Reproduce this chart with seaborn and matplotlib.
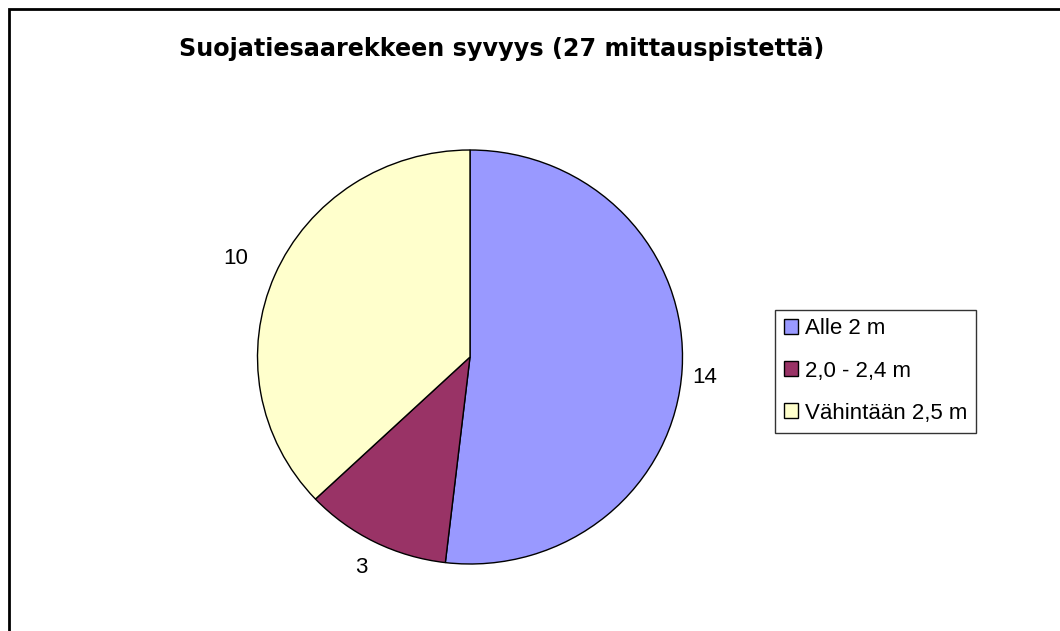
import matplotlib
matplotlib.use("Agg")
import numpy as np
import matplotlib.pyplot as plt
import seaborn as sns
from matplotlib.patches import Rectangle

# data
categories = ["Alle 2 m", "2,0 - 2,4 m", "Vähintään 2,5 m"]
counts = [14, 3, 10]
slice_colors = ["#9999FF", "#993366", "#FFFFCC"]
title = "Suojatiesaarekkeen syvyys (27 mittauspistettä)"

sns.set_theme(style="white")
plt.rcParams["font.family"] = ["Liberation Sans", "DejaVu Sans"]

W, H = 1060, 631
fig = plt.figure(figsize=(W / 100, H / 100), dpi=100)

# outer chart frame (cut off at right and bottom, as in the screenshot)
fig.patches.append(Rectangle((8.5 / W, -0.1), 1.2, (H - 8.5) / H + 0.1,
                             transform=fig.transFigure, fill=False,
                             edgecolor="black", linewidth=2.0))

# pie is a touch wider than tall in the original
cx, cy, rx, ry = 470, 357, 212.5, 207
ax = fig.add_axes([(cx - rx) / W, (H - cy - ry) / H, 2 * rx / W, 2 * ry / H])
wedges, texts = ax.pie(counts, labels=[str(c) for c in counts], colors=slice_colors,
                       startangle=90, counterclock=False,
                       wedgeprops=dict(edgecolor="black", linewidth=1.0),
                       textprops=dict(fontsize=16, color="black"))
ax.set_aspect("auto")
ax.set_xlim(-1, 1)
ax.set_ylim(-1, 1)
ax.axis("off")

# Excel-style label spacing
label_gap = [1.105, 1.14, 1.2]
label_nudge = [-0.035, 0.0, 0.0]
for w, t, g, dy in zip(wedges, texts, label_gap, label_nudge):
    ang = np.deg2rad((w.theta1 + w.theta2) / 2)
    t.set_position((g * np.cos(ang), g * np.sin(ang) + dy))
    t.set_horizontalalignment("center")
    t.set_verticalalignment("center")

fig.text(502 / W, 1 - 49 / H, title, ha="center", va="center", color="black",
         fontsize=17.2, fontweight="bold", family=["DejaVu Sans"])

leg = fig.legend(wedges, categories, loc="center left",
                 bbox_to_anchor=(775 / W, 1 - 371 / H),
                 frameon=True, fancybox=False, fontsize=16,
                 handlelength=0.65, handleheight=0.65, handletextpad=0.3,
                 labelspacing=0.95, borderpad=0.4, borderaxespad=0)
leg.get_frame().set_edgecolor("black")
leg.get_frame().set_linewidth(1.0)
for txt in leg.get_texts():
    txt.set_color("black")

fig.savefig("out.png", dpi=100, facecolor="white")
